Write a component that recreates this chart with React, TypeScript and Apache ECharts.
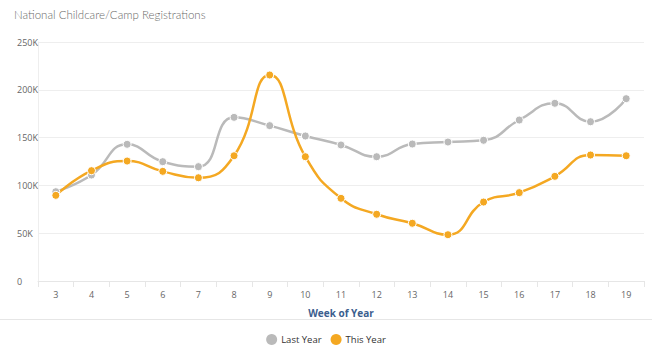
import React, { useEffect, useRef } from "react";
import * as echarts from "echarts";

const weeks = ["3", "4", "5", "6", "7", "8", "9", "10", "11", "12", "13", "14", "15", "16", "17", "18", "19"];
const lastYear = [93400, 110900, 143000, 124800, 119600, 171200, 162500, 151700, 142300, 130000, 143300, 145400, 147200, 168400, 185900, 166600, 190700];
const thisYear = [89600, 115400, 125500, 114700, 108000, 131000, 215500, 130000, 86500, 69800, 60400, 48400, 82600, 92400, 109500, 131800, 131000];
const yTicks = { min: 0, max: 250000, interval: 50000 };

export default function App() {
  const ref = useRef<HTMLDivElement>(null);
  useEffect(() => {
    document.body.style.margin = "0";
    const chart = echarts.init(ref.current!, null, { renderer: "svg" });
    const labelFont = "'Open Sans', sans-serif";
    chart.setOption({
      animation: false,
      backgroundColor: "#ffffff",
      title: {
        text: "National Childcare/Camp Registrations",
        left: 9,
        top: 3,
        textStyle: { fontFamily: "Lato, sans-serif", fontWeight: 300, fontSize: 11.5, color: "#6a6a6a" },
      },
      grid: { left: 38, right: 8, top: 42, bottom: 73, containLabel: false },
      legend: {
        bottom: 4,
        left: "center",
        icon: "circle",
        itemWidth: 11,
        itemHeight: 11,
        itemGap: 9,
        itemStyle: { borderWidth: 0 },
        textStyle: { fontFamily: labelFont, fontSize: 9.5, color: "#333333", padding: [0, 0, 0, -1] },
        data: ["Last Year", "This Year"],
      },
      xAxis: {
        type: "category",
        data: weeks,
        boundaryGap: true,
        name: "Week of Year",
        nameLocation: "middle",
        nameGap: 27,
        nameTextStyle: { fontFamily: labelFont, fontWeight: "bold", fontSize: 10, color: "#3b5e8e" },
        axisLine: { lineStyle: { color: "#e6e6e6" } },
        axisTick: { show: true, length: 6, lineStyle: { color: "#e6e6e6" } },
        axisLabel: { fontFamily: labelFont, fontSize: 9, color: "#666666", margin: 9 },
      },
      yAxis: {
        type: "value",
        min: yTicks.min,
        max: yTicks.max,
        interval: yTicks.interval,
        axisLine: { show: true, lineStyle: { color: "#eeeeee" } },
        axisTick: { show: false },
        splitLine: { lineStyle: { color: "#eeeeee" } },
        axisLabel: {
          fontFamily: labelFont,
          fontSize: 9,
          color: "#666666",
          align: "left",
          margin: 21,
          formatter: (v: number) => (v === 0 ? "0" : v / 1000 + "K"),
        },
      },
      graphic: [
        { type: "line", shape: { x1: 0, y1: 319.5, x2: 652, y2: 319.5 }, style: { stroke: "#e6e6e6", lineWidth: 1 } },
      ],
      series: [
        {
          name: "Last Year",
          type: "line",
          data: lastYear,
          smooth: 0.5,
          color: "#bababa",
          symbol: "circle",
          symbolSize: 8,
          lineStyle: { width: 2.5, color: "#bababa" },
          itemStyle: { color: "#bababa", borderColor: "#ffffff", borderWidth: 1 },
        },
        {
          name: "This Year",
          type: "line",
          data: thisYear,
          smooth: 0.5,
          color: "#f4a822",
          symbol: "circle",
          symbolSize: 8,
          lineStyle: { width: 2.5, color: "#f4a822" },
          itemStyle: { color: "#f4a822", borderColor: "#ffffff", borderWidth: 1 },
        },
      ],
    });
    return () => chart.dispose();
  }, []);
  return <div ref={ref} style={{ width: 652, height: 354, position: "absolute", left: 0, top: 0 }} />;
}
